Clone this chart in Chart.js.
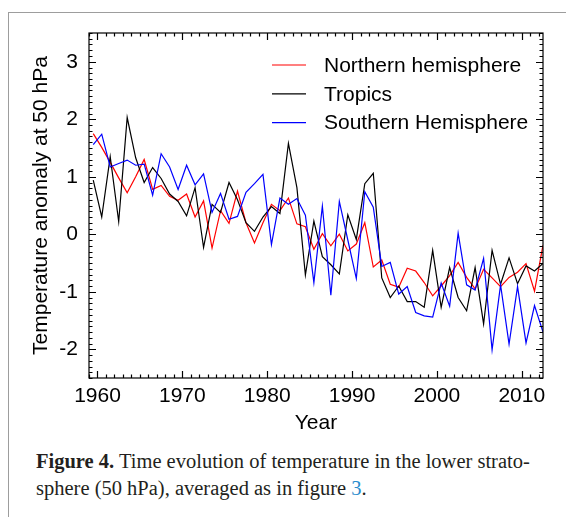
<!DOCTYPE html>
<html>
<head>
<meta charset="utf-8">
<script src="https://cdn.jsdelivr.net/npm/chart.js@4.4.0/dist/chart.umd.min.js"></script>
<style>
  html, body { margin: 0; padding: 0; background: #fff; }
  #page { position: relative; width: 566px; height: 517px; overflow: hidden; }
  #frame { position: absolute; left: 8px; top: 12px; width: 700px; height: 700px;
           border-left: 1.5px solid #9d9d9d; border-top: 1.5px solid #9d9d9d; }
  #chart { position: absolute; left: 0; top: 0; }
  #caption { position: absolute; left: 36px; top: 448px; width: 525px;
             font-family: 'Liberation Serif', 'Times New Roman', serif; font-size: 20.5px;
             line-height: 27px; color: #231f20; white-space: nowrap; }
  #caption .ref { color: #2b8ccd; }
</style>
</head>
<body>
<div id="page">
  <div id="frame"></div>
  <canvas id="chart" width="566" height="440"></canvas>
  <div id="caption"><b>Figure 4.</b> Time evolution of temperature in the lower strato-<br>sphere (50 hPa), averaged as in figure <span class="ref">3</span>.</div>
</div>
<script>
// annual values, plotted at mid-year
const years = [1959, 1960, 1961, 1962, 1963, 1964, 1965, 1966, 1967, 1968,
  1969, 1970, 1971, 1972, 1973, 1974, 1975, 1976, 1977, 1978,
  1979, 1980, 1981, 1982, 1983, 1984, 1985, 1986, 1987, 1988,
  1989, 1990, 1991, 1992, 1993, 1994, 1995, 1996, 1997, 1998,
  1999, 2000, 2001, 2002, 2003, 2004, 2005, 2006, 2007, 2008,
  2009, 2010, 2011, 2012]

const northern = [1.75, 1.51, 1.25, 0.98, 0.72, 1.00, 1.30, 0.78, 0.85, 0.66,
  0.59, 0.70, 0.30, 0.58, -0.24, 0.41, 0.19, 0.75, 0.20, -0.15,
  0.20, 0.52, 0.41, 0.63, 0.18, 0.13, -0.26, 0.01, -0.20, 0.00,
  -0.29, -0.17, 0.20, -0.57, -0.45, -0.87, -0.92, -0.59, -0.64, -0.84,
  -1.07, -0.90, -0.72, -0.49, -0.75, -0.95, -0.61, -0.76, -0.91, -0.75,
  -0.66, -0.51, -0.99, -0.19]

const tropics = [0.94, 0.30, 1.35, 0.22, 2.03, 1.33, 0.90, 1.16, 0.97, 0.70,
  0.57, 0.32, 0.81, -0.23, 0.52, 0.38, 0.90, 0.60, 0.20, 0.05,
  0.30, 0.48, 0.36, 1.58, 0.81, -0.71, 0.23, -0.39, -0.53, -0.69,
  0.34, -0.09, 0.88, 1.06, -0.76, -1.10, -0.90, -1.17, -1.17, -1.27,
  -0.28, -1.27, -0.58, -1.10, -1.33, -0.58, -1.56, -0.28, -0.87, -0.41,
  -0.86, -0.55, -0.64, -0.51]

const southern = [1.56, 1.74, 1.17, 1.23, 1.29, 1.20, 1.22, 0.68, 1.40, 1.17,
  0.78, 1.20, 0.86, 1.05, 0.38, 0.71, 0.26, 0.31, 0.73, 0.88,
  1.04, -0.18, 0.63, 0.52, 0.62, 0.33, -0.84, 0.49, -1.06, 0.57,
  -0.10, -0.77, 0.74, 0.47, -0.56, -0.49, -1.04, -0.91, -1.36, -1.42,
  -1.44, -0.85, -1.25, 0.02, -0.88, -0.97, -0.42, -2.01, -0.88, -1.91,
  -0.91, -1.89, -1.24, -1.70]

const seriesNames = ['Northern hemisphere', 'Tropics', 'Southern Hemisphere']
const xTicks = [1960, 1970, 1980, 1990, 2000, 2010]
const yTicks = [-2, -1, 0, 1, 2, 3]
const xMinorStep = 1
const yMinorStep = 0.1

const font = { family: "'Liberation Sans', Arial, sans-serif", size: 21 }

const toPoints = vals => years.map((yr, i) => ({ x: yr + 0.5, y: vals[i] }))

// inward ticks on all four sides plus the box
const boxTicks = {
  id: 'boxTicks',
  afterDatasetsDraw(chart) {
    const { ctx, chartArea: a, scales } = chart
    const xs = scales.x, ys = scales.y
    ctx.save()
    ctx.strokeStyle = '#000'
    ctx.lineWidth = 1.2
    ctx.strokeRect(a.left, a.top, a.right - a.left, a.bottom - a.top)
    ctx.beginPath()
    for (let v = Math.ceil(xs.min); v <= xs.max; v += xMinorStep) {
      const len = xTicks.includes(v) ? 7 : 3.5
      const px = Math.round(xs.getPixelForValue(v)) + 0.5
      ctx.moveTo(px, a.bottom); ctx.lineTo(px, a.bottom - len)
      ctx.moveTo(px, a.top); ctx.lineTo(px, a.top + len)
    }
    for (let k = Math.round(ys.min / yMinorStep); k * yMinorStep <= ys.max + 1e-9; k++) {
      const v = k * yMinorStep
      const major = yTicks.some(t => Math.abs(t - v) < 1e-6)
      const len = major ? 7 : 3.5
      const py = Math.round(ys.getPixelForValue(v)) + 0.5
      ctx.moveTo(a.left, py); ctx.lineTo(a.left + len, py)
      ctx.moveTo(a.right, py); ctx.lineTo(a.right - len, py)
    }
    ctx.stroke()
    ctx.restore()
  }
}

const insideLegend = {
  id: 'insideLegend',
  afterDraw(chart) {
    const { ctx } = chart
    ctx.save()
    ctx.font = `${font.size}px ${font.family}`
    ctx.textBaseline = 'middle'
    ctx.fillStyle = '#000'
    chart.data.datasets.forEach((ds, i) => {
      const y = 65 + i * 28.8
      ctx.strokeStyle = ds.borderColor
      ctx.lineWidth = 1.2
      ctx.beginPath()
      ctx.moveTo(272, y); ctx.lineTo(306, y)
      ctx.stroke()
      ctx.fillText(ds.label, 324, y + 1)
    })
    ctx.restore()
  }
}

new Chart(document.getElementById('chart'), {
  type: 'line',
  data: {
    datasets: [
      { label: seriesNames[0], data: toPoints(northern), borderColor: '#ff0000', order: 3 },
      { label: seriesNames[1], data: toPoints(tropics), borderColor: '#000000', order: 2 },
      { label: seriesNames[2], data: toPoints(southern), borderColor: '#0000ff', order: 1 }
    ]
  },
  options: {
    responsive: false,
    animation: false,
    layout: { padding: { left: 0, right: 23, top: 33, bottom: 0 } },
    elements: {
      point: { radius: 0 },
      line: { borderWidth: 1.2, tension: 0, fill: false }
    },
    plugins: { legend: { display: false }, tooltip: { enabled: false } },
    scales: {
      x: {
        type: 'linear',
        min: 1959,
        max: 2012.5,
        afterBuildTicks: s => { s.ticks = xTicks.map(v => ({ value: v })) },
        afterFit: s => { s.height = 62 },
        grid: { display: false, drawTicks: false },
        border: { display: false },
        ticks: { padding: 6, color: '#000', font, maxRotation: 0, autoSkip: false, callback: v => String(v) },
        title: { display: true, text: 'Year', color: '#000', font, padding: { top: 4 } }
      },
      y: {
        type: 'linear',
        min: -2.5,
        max: 3.5,
        afterBuildTicks: s => { s.ticks = yTicks.map(v => ({ value: v })) },
        afterFit: s => { s.width = 89 },
        grid: { display: false, drawTicks: false },
        border: { display: false },
        ticks: { padding: 11, color: '#000', font, callback: v => String(v) },
        title: { display: true, text: 'Temperature anomaly at 50 hPa', color: '#000', font, padding: { top: 29 } }
      }
    }
  },
  plugins: [boxTicks, insideLegend]
})
</script>
</body>
</html>
